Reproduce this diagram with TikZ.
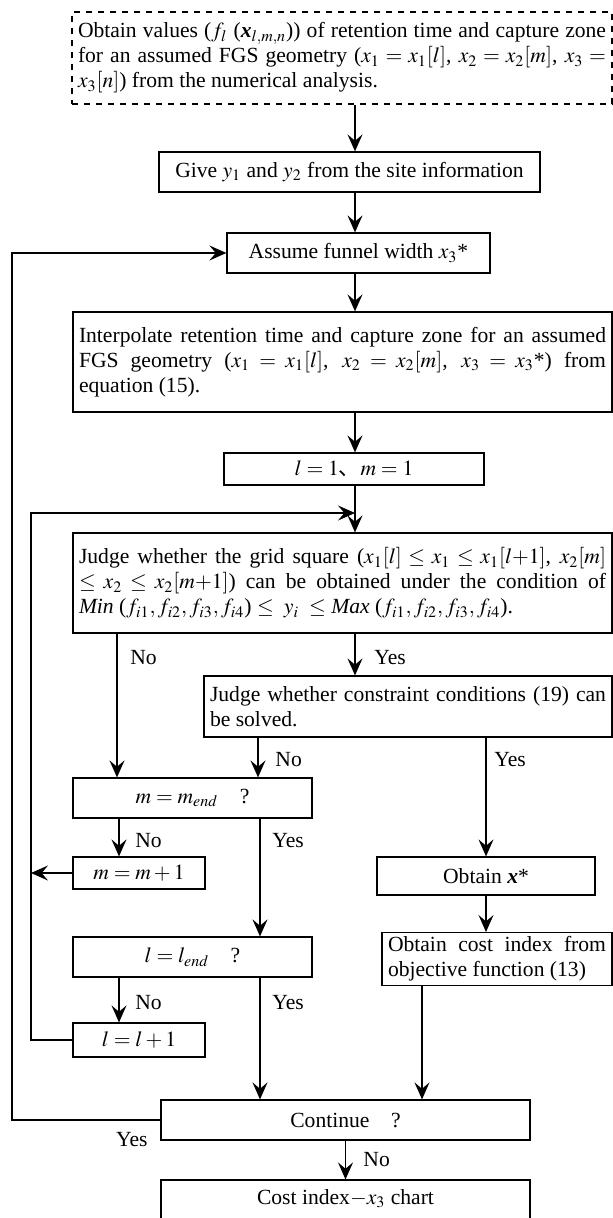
\documentclass[tikz,border=0pt]{standalone}
\usepackage{mathptmx}
\usepackage[no-math]{fontspec}
\setmainfont{Liberation Serif}
\newfontfamily\cjk{Noto Sans CJK JP}
\usetikzlibrary{arrows.meta}
\hyphenpenalty=10000
\relpenalty=10000
\binoppenalty=10000

\begin{document}
\begin{tikzpicture}[x=0.5pt, y=-0.5pt,
        box/.style={draw, line width=0.6pt, inner xsep=3pt, inner ysep=2pt,
            font=\fontsize{10.8}{12.5}\selectfont},
        para/.style={box, align=justify},
        arr/.style={line width=0.6pt, -{Stealth[length=8.5pt, width=7.5pt, inset=3.2pt]}},
        lbl/.style={font=\fontsize{10.8}{12}\selectfont, anchor=west, inner sep=1pt}]
            \useasboundingbox (0, 0) rectangle (613, 1218);

            \coordinate (ax) at (355, 0);
            \coordinate (lp) at (31, 513);
            \coordinate (op) at (12, 0);

            \node[para, dashed, text width=264pt, minimum height=46pt] at (342, 58) (top)
                {Obtain values ($f_l$ (\textbf{\textit{x}}$_{l,m,n}$)) of retention time and capture zone for an assumed FGS geometry ($x_1 = x_1[l]$, $x_2 = x_2[m]$, $x_3 =$ $x_3[n]$) from the numerical analysis.};
            \node[box, minimum width=190.5pt, minimum height=20pt] at (349.5, 172) (give)
                {Give $y_1$ and $y_2$ from the site information};
            \node[box, minimum width=131.5pt, minimum height=20pt] at (358.5, 253) (assume)
                {Assume funnel width $x_3$*};
            \node[para, text width=263.5pt, minimum height=50pt] at (342.5, 362) (interp)
                {Interpolate retention time and capture zone for an assumed FGS geometry ($x_1 = x_1[l]$, $x_2 = x_2[m]$, $x_3 = x_3$*) from\linebreak equation (15).};
            \node[box, minimum width=130pt, minimum height=16pt] at (354, 469) (init)
                {$l = 1${\cjk 、}$m = 1$};
            \node[para, text width=263.5pt, minimum height=50pt] at (342.5, 583) (judge)
                {Judge whether the grid square ($x_1[l] \le x_1 \le x_1[l{+}1]$, $x_2[m]$\linebreak $\le x_2 \le x_2[m{+}1]$) can be obtained under the condition of\linebreak \textit{Min} ($f_{i1}, f_{i2}, f_{i3}, f_{i4}$) $\le\ y_i\ \le$ \textit{Max} ($f_{i1}, f_{i2}, f_{i3}, f_{i4}$).};
            \node[para, text width=198pt, minimum height=30.5pt] at (408, 706.5) (cons)
                {Judge whether constraint conditions (19) can be solved.};
            \node[box, minimum width=119.5pt, minimum height=20pt] at (192.5, 798) (mend)
                {$m = m_{end}$\quad ?};
            \node[box, minimum width=66pt, minimum height=16pt] at (139, 873) (minc)
                {$m = m + 1$};
            \node[box, minimum width=109pt, minimum height=19pt] at (486, 876) (xstar)
                {Obtain \textbf{\textit{x}}*};
            \node[box, minimum width=119.5pt, minimum height=20pt] at (192.5, 957) (lend)
                {$l = l_{end}$\quad ?};
            \node[para, text width=109pt, minimum height=25pt] at (497, 959) (cost)
                {Obtain cost index from objective function (13)};
            \node[box, minimum width=66pt, minimum height=17pt] at (139, 1040) (linc)
                {$l = l + 1$};
            \node[box, minimum width=184.5pt, minimum height=20pt] at (345.5, 1120) (cont)
                {Continue\quad ?};
            \node[box, minimum width=184.5pt, minimum height=26pt, text depth=9pt] at (345.5, 1206) (chart)
                {Cost index$-x_3$ chart};

            \node[lbl] at (128, 658) (no1) {No};
            \node[lbl] at (372, 658) (yes1) {Yes};
            \node[lbl] at (273, 760) (no2) {No};
            \node[lbl] at (492, 760) (yes2) {Yes};
            \node[lbl] at (133, 841) (no3) {No};
            \node[lbl] at (270, 841) (yes3) {Yes};
            \node[lbl] at (133, 1003) (no4) {No};
            \node[lbl] at (270, 1003) (yes4) {Yes};
            \node[lbl, anchor=east] at (150, 1140) (yes5) {Yes};
            \node[lbl] at (361, 1160) (no5) {No};

            \draw[arr] (top.south -| ax) -- (give.north -| ax);
            \draw[arr] (give.south -| ax) -- (assume.north -| ax);
            \draw[arr] (assume.south -| ax) -- (interp.north -| ax);
            \draw[arr] (interp.south -| ax) -- (init.north -| ax);
            \draw[arr] (init.south -| ax) -- (judge.north -| ax);

            \draw[arr] (judge.south -| ax) -- (cons.north -| ax);
            \draw[arr] (judge.south -| 117, 0) -- (mend.north -| 117, 0);
            \draw[arr] (cons.south -| 258, 0) -- (mend.north -| 258, 0);
            \draw[arr] (cons.south -| 486, 0) -- (xstar.north);
            \draw[arr] (mend.south -| 119, 0) -- (minc.north -| 119, 0);
            \draw[arr] (mend.south -| 260, 0) -- (lend.north -| 260, 0);
            \draw[arr] (xstar.south) -- (cost.north -| xstar);
            \draw[arr] (lend.south -| 119, 0) -- (linc.north -| 119, 0);
            \draw[arr] (lend.south -| 260, 0) -- (cont.north -| 260, 0);
            \draw[arr] (cost.south -| 422, 0) -- (cont.north -| 422, 0);
            \draw[arr] (cont.south) -- (chart.north);

            \draw[arr] (minc.west) -- (minc.west -| lp);
            \draw[arr] (linc.west) -| (lp) -- (lp -| ax);
            \draw[arr] (cont.west) -- (cont.west -| op) |- (assume.west);
        \end{tikzpicture}
\end{document}
